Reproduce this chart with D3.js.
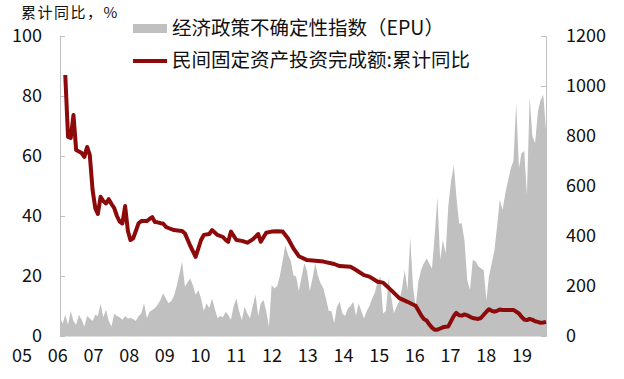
<!DOCTYPE html>
<html><head><meta charset="utf-8">
<script src="https://cdn.jsdelivr.net/npm/d3@7"></script>
<style>body{margin:0;background:#fff}svg{display:block}text{font-family:"Noto Sans CJK SC","Noto Sans",sans-serif;fill:#111}</style>
</head><body><svg id="c" width="624" height="379"></svg>
<script>
const epuStart = "2005-01";
const epuValues = [
 70,50,85,45,100,60,45,85,65,38,80,70,
 60,85,80,130,75,105,60,38,90,80,75,65,
 80,70,72,68,60,80,90,132,71,97,104,112,
 125,144,171,150,131,140,160,200,250,297,197,215,
 230,200,165,184,150,100,131,112,150,110,71,80,
 75,97,85,65,120,150,100,64,117,90,71,120,
 165,80,131,144,100,37,204,190,200,240,300,364,
 325,300,244,237,180,237,291,260,180,230,291,240,
 210,190,150,100,100,51,117,137,90,80,110,120,
 137,80,131,100,70,100,120,150,175,220,237,90,
 100,231,160,91,117,140,190,264,184,395,200,117,
 220,265,290,310,291,270,400,555,304,384,330,520,
 620,684,560,450,451,380,224,184,304,300,280,271,
 264,144,237,290,340,440,545,505,570,620,670,700,
 931,671,731,740,564,957,800,771,897,944,964,824
];
const lineDates = ["2005-03","2005-04","2005-05","2005-06","2005-07","2005-08","2005-09","2005-10","2005-11","2005-12",
 "2006-01","2006-02","2006-03","2006-04","2006-05","2006-06","2006-07","2006-08","2006-09","2006-10","2006-11","2006-12",
 "2007-01","2007-02","2007-03","2007-04","2007-05","2007-06","2007-07","2007-09","2007-10","2007-11","2007-12",
 "2008-01","2008-02","2008-03","2008-04","2008-05","2008-07","2008-09","2008-10","2008-11",
 "2009-01","2009-03","2009-05","2009-06","2009-08","2009-09","2009-11",
 "2010-01","2010-02","2010-03","2010-04","2010-06","2010-08","2010-10","2010-12",
 "2011-02","2011-03","2011-05","2011-07","2011-09","2011-11",
 "2012-01","2012-03","2012-05","2012-08","2012-11",
 "2013-02","2013-06","2013-08","2013-12",
 "2014-02","2014-05","2014-07","2014-10","2014-12",
 "2015-03","2015-06","2015-09","2015-11","2015-12",
 "2016-02","2016-03","2016-04","2016-05","2016-06","2016-07","2016-08","2016-09","2016-10","2016-11","2016-12",
 "2017-02","2017-03","2017-04","2017-05","2017-06","2017-07","2017-08","2017-09","2017-10","2017-11","2017-12",
 "2018-02","2018-03","2018-04","2018-05","2018-06","2018-07","2018-08","2018-09","2018-10","2018-11","2018-12",
 "2019-02","2019-03","2019-04","2019-05","2019-06","2019-07","2019-08","2019-09","2019-10","2019-11","2019-12"];
const lineValues = [87,66.4,66,73.7,62,61.5,61,59.7,63,60.3,
 48.7,42.5,40.7,46.4,45,44.2,45.6,44,42.6,40,38.1,37.5,
 43.3,35,32,32.6,35,37.6,38.3,38.3,39,39.6,38,
 37.9,37.6,37.5,36.4,36,35.3,35.1,35,34.2,
 30,26.4,32,33.7,34,35.3,33.7,
 33,32,31.4,34.8,32,31.7,31.1,32.2,
 34,31.4,34.4,34.8,34.9,34.8,
 32.5,29.2,26.6,25.3,25.1,
 24.8,24,23.3,23.1,
 22,20.3,19.8,18.1,17.8,
 15.3,12.6,11.4,10.5,10.1,
 6.9,5.7,5.2,3.9,2.8,2.1,2.1,2.5,2.9,3.1,3.2,
 6.7,7.7,6.9,6.8,7.2,6.9,6.4,6.0,5.8,5.7,6.0,
 8.1,8.9,8.4,8.1,8.4,8.8,8.7,8.7,8.7,8.7,8.7,
 7.5,6.4,5.5,5.3,5.7,5.4,4.9,4.7,4.4,4.5,4.7];
const xLabels = ["05","06","07","08","09","10","11","12","13","14","15","16","17","18","19"];
const leftTicks = [0,20,40,60,80,100];
const rightTicks = [0,200,400,600,800,1000,1200];
const unitLabel = "累计同比，%";
const legendNames = ["经济政策不确定性指数（EPU）","民间固定资产投资完成额:累计同比"];

const parse = d3.timeParse("%Y-%m");
const svg = d3.select("#c");
const L = 60, R = 546, T = 36, B = 336;
const epuDates = d3.range(epuValues.length).map(i => d3.timeMonth.offset(parse(epuStart), i));
const x = d3.scaleTime().domain([epuDates[0], epuDates[epuDates.length-1]]).range([L, R]);
const yL = d3.scaleLinear().domain([0,100]).range([B, T]);
const yR = d3.scaleLinear().domain([0,1200]).range([B, T]);
const gray = "#c0c0c0", axisC = "#bfbfbf", red = "#8c0a0a";

// area
svg.append("path").datum(epuValues)
  .attr("fill", gray)
  .attr("d", d3.area().x((d,i)=>x(epuDates[i])).y0(B).y1(d=>yR(d)));

// axes
const gl = svg.append("g").attr("transform",`translate(${L},0)`)
  .call(d3.axisRight(yL).tickValues(leftTicks).tickSize(5).tickFormat(""));
gl.select(".domain").attr("stroke", axisC);
gl.selectAll(".tick line").attr("stroke", axisC);
const gr = svg.append("g").attr("transform",`translate(${R},0)`)
  .call(d3.axisLeft(yR).tickValues(rightTicks).tickSize(5).tickFormat(""));
gr.select(".domain").attr("stroke", axisC);
gr.selectAll(".tick line").attr("stroke", axisC);
svg.append("line").attr("x1",L).attr("x2",R).attr("y1",B).attr("y2",B).attr("stroke",axisC);

// tick labels
svg.selectAll(".ll").data(leftTicks).join("text")
  .attr("x", L-18).attr("y", d=>yL(d)).attr("dy","0.36em")
  .attr("text-anchor","end").attr("font-size",18).text(d=>d);
svg.selectAll(".rl").data(rightTicks).join("text")
  .attr("x", R+20).attr("y", d=>yR(d)).attr("dy","0.36em")
  .attr("text-anchor","start").attr("font-size",18).text(d=>d);
const xl = d3.scalePoint().domain(xLabels).range([22, 522]);
svg.selectAll(".xl").data(xLabels).join("text")
  .attr("x", d=>xl(d)).attr("y", 356).attr("dy","0.36em")
  .attr("text-anchor","middle").attr("font-size",18).text(d=>d);

// line
const lineData = lineDates.map((d,i)=>({date:parse(d), v:lineValues[i]}));
svg.append("path").datum(lineData)
  .attr("fill","none").attr("stroke",red).attr("stroke-width",4)
  .attr("stroke-linejoin","round")
  .attr("d", d3.line().x(d=>x(d.date)).y(d=>yL(d.v)));

// unit label
svg.append("text").attr("x",21).attr("y",13).attr("dy","0.36em").attr("font-size",15)
  .attr("letter-spacing",1.5).text(unitLabel);

// legend
svg.append("rect").attr("x",133).attr("y",24).attr("width",34).attr("height",9).attr("fill",gray);
svg.append("text").attr("x",172).attr("y",28).attr("dy","0.36em").attr("font-size",19.5).text(legendNames[0]);
svg.append("line").attr("x1",133).attr("x2",167).attr("y1",61).attr("y2",61).attr("stroke",red).attr("stroke-width",4);
svg.append("text").attr("x",172).attr("y",60).attr("dy","0.36em").attr("font-size",19.5).text(legendNames[1]);
</script></body></html>
